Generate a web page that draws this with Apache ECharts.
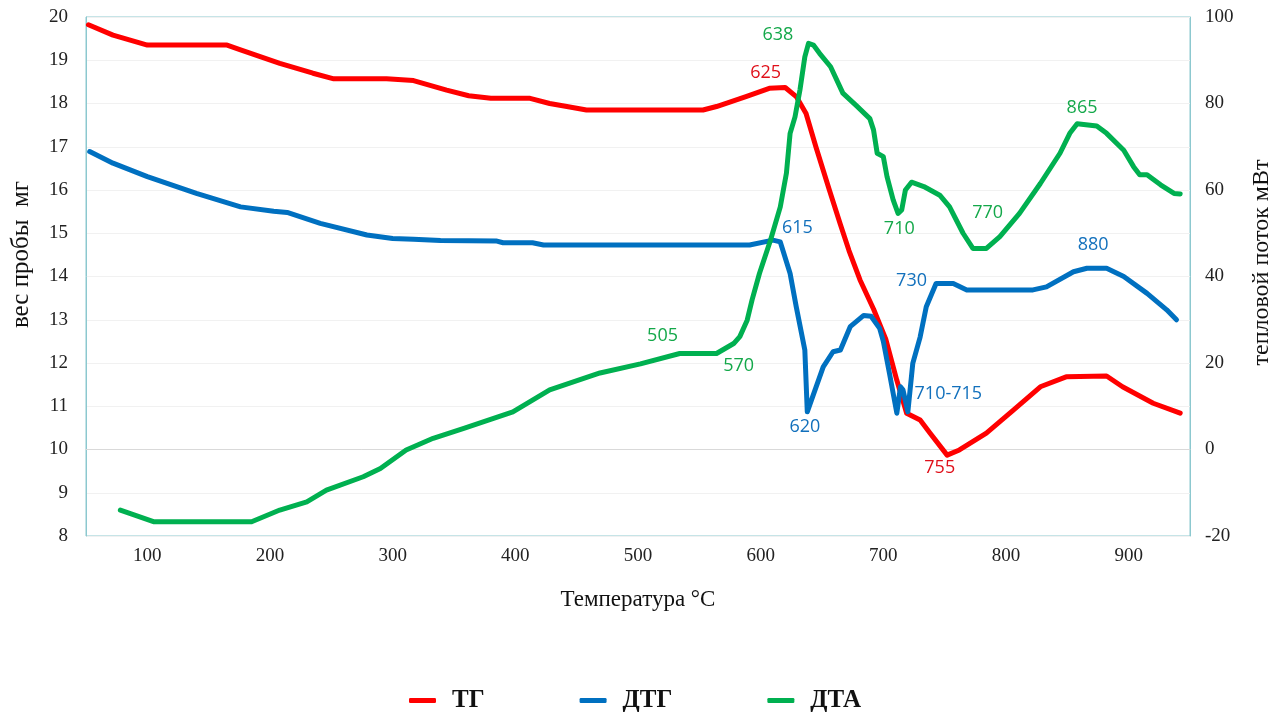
<!DOCTYPE html>
<html>
<head>
<meta charset="utf-8">
<script src="https://cdn.jsdelivr.net/npm/echarts@6/dist/echarts.min.js"></script>
<style>
html,body{margin:0;padding:0;background:#fff;}
#chart{width:1285px;height:722px;}
</style>
</head>
<body>
<div id="chart"></div>
<script>
// ---- data (temperature °C, value) ----
const tgData = [[52,19.82],[72,19.58],[100,19.35],[165,19.35],[176,19.24],[208,18.93],[235,18.70],[252,18.57],[295,18.57],[317,18.53],[344,18.31],[362,18.18],[380,18.12],[412,18.12],[428,18.0],[442,17.93],[458,17.85],[553,17.85],[564,17.93],[588,18.16],[607,18.35],[620,18.37],[629,18.16],[637,17.77],[645,17.0],[656,16.0],[665,15.2],[672,14.6],[681,13.92],[692,13.25],[702,12.55],[711,11.6],[719,10.84],[730,10.68],[738,10.38],[752,9.87],[762,9.99],[784,10.38],[806,10.91],[828,11.45],[849,11.68],[882,11.70],[895,11.45],[920,11.07],[942,10.84]];
const dtgData = [[53,16.89],[72,16.62],[100,16.31],[140,15.92],[176,15.61],[203,15.51],[214,15.48],[241,15.23],[279,14.96],[300,14.88],[317,14.86],[339,14.83],[385,14.82],[390,14.78],[414,14.78],[423,14.73],[591,14.73],[610,14.84],[616,14.8],[624,14.07],[629,13.3],[636,12.3],[638,10.87],[651,11.91],[659,12.26],[665,12.30],[673,12.84],[684,13.1],[690,13.08],[697,12.8],[700,12.5],[705,11.76],[711,10.84],[714,11.45],[716,11.38],[720,10.87],[724,11.99],[730,12.6],[735,13.3],[743,13.84],[757,13.84],[768,13.69],[822,13.69],[833,13.76],[855,14.11],[866,14.19],[882,14.19],[896,14.0],[915,13.61],[931,13.23],[939,13.0]];
const dtaData = [[78,-14.0],[105,-16.7],[185,-16.7],[208,-14.0],[230,-12.1],[246,-9.4],[276,-6.3],[290,-4.4],[311,-0.1],[333,2.6],[358,4.9],[398,8.7],[428,13.8],[469,17.7],[502,19.8],[534,22.2],[564,22.2],[578,24.5],[583,26.1],[589,29.9],[593,34.6],[599,40.7],[608,48.4],[616,56.1],[621,63.9],[624,73.1],[628,76.9],[632,83.1],[636,90.8],[639,93.9],[643,93.5],[648,91.6],[657,88.5],[667,82.4],[678,79.5],[689,76.5],[692,73.9],[695,68.5],[700,67.7],[703,63.1],[708,57.7],[712,54.6],[715,55.4],[718,60.0],[723,61.8],[733,60.8],[746,58.8],[754,56.1],[765,50.0],[773,46.5],[784,46.5],[795,49.2],[811,54.6],[828,61.5],[844,68.5],[852,73.1],[858,75.3],[874,74.8],[882,73.1],[896,69.2],[904,65.4],[909,63.5],[915,63.5],[926,61.2],[937,59.2],[942,59.1]];

// annotations: [temperature, value, text]
const tgNotes = [[604,18.71,'625'],[746,9.57,'755']];
const dtgNotes = [[630,15.12,'615'],[636,10.52,'620'],[723,13.9,'730'],[753,11.28,'710-715'],[871,14.73,'880']];
const dtaNotes = [[614,95.8,'638'],[520,26.2,'505'],[582,19.3,'570'],[713,50.9,'710'],[785,54.8,'770'],[862,78.9,'865']];

const xTicks = [100,200,300,400,500,600,700,800,900];
const seriesNames = ['ТГ','ДТГ','ДТА'];
const colors = ['#FF0000','#0070C0','#00B050'];
const noteColors = ['#E0101A','#1270BC','#14A84A'];

const serif = "'Liberation Serif','DejaVu Serif',serif";
const sans = "'Open Sans','Noto Sans',sans-serif";

function noteSeries(data, color, yIdx){
  return {
    type:'scatter', yAxisIndex:yIdx, data:data, symbolSize:1, silent:true,
    itemStyle:{color:'rgba(0,0,0,0)'}, z:10,
    label:{show:true, position:'inside', formatter:p=>p.data[2], color:color, opacity:1,
      fontFamily:sans, fontSize:18}
  };
}
function lineSeries(name, data, color, yIdx){
  return {name:name, type:'line', yAxisIndex:yIdx, data:data, showSymbol:false,
    symbol:'none', smooth:false, lineStyle:{width:5, color:color, cap:'round', join:'round'},
    itemStyle:{color:color}};
}

const chart = echarts.init(document.getElementById('chart'));
chart.setOption({
  animation:false,
  backgroundColor:'#fff',
  grid:{left:86, right:95, top:17, bottom:186, show:true, borderColor:'#8cc8cf', borderWidth:1},
  legend:{data:seriesNames, bottom:4, left:404, icon:'roundRect', itemWidth:27, itemHeight:5,
    itemGap:95, textStyle:{fontFamily:serif, fontWeight:'bold', fontSize:25, color:'#111', padding:[0,0,0,11]}},
  xAxis:{type:'value', min:50, max:950, interval:50,
    name:'Температура °C', nameLocation:'middle', nameGap:52,
    nameTextStyle:{fontFamily:serif, fontSize:23, color:'#111'},
    axisLine:{show:true, lineStyle:{color:'#d9d9d9'}}, axisTick:{show:false},
    splitLine:{show:false},
    axisLabel:{margin:11, fontFamily:serif, fontSize:19, color:'#222',
      formatter:v=> xTicks.indexOf(v)>=0 ? String(v) : ''}},
  yAxis:[
    {type:'value', min:8, max:20, interval:1, position:'left',
      name:'вес пробы  мг', nameLocation:'middle', nameGap:52,
      nameTextStyle:{fontFamily:serif, fontSize:25, color:'#111', padding:[0,0,0,44]},
      axisLine:{show:true, lineStyle:{color:'#8cc8cf'}}, axisTick:{show:false},
      splitLine:{show:true, lineStyle:{color:'#f1f1f1'}},
      axisLabel:{margin:18, fontFamily:serif, fontSize:19, color:'#222'}},
    {type:'value', min:-20, max:100, interval:20, position:'right',
      name:'тепловой поток мВт', nameLocation:'middle', nameGap:60, nameRotate:90,
      nameTextStyle:{fontFamily:serif, fontSize:24, color:'#111', padding:[0,0,0,28]},
      axisLine:{show:true, lineStyle:{color:'#8cc8cf'}}, axisTick:{show:false},
      splitLine:{show:false},
      axisLabel:{margin:15, fontFamily:serif, fontSize:19, color:'#222'}}
  ],
  series:[
    lineSeries(seriesNames[0], tgData, colors[0], 0),
    lineSeries(seriesNames[1], dtgData, colors[1], 0),
    lineSeries(seriesNames[2], dtaData, colors[2], 1),
    noteSeries(tgNotes, noteColors[0], 0),
    noteSeries(dtgNotes, noteColors[1], 0),
    noteSeries(dtaNotes, noteColors[2], 1)
  ]
});
</script>
</body>
</html>
